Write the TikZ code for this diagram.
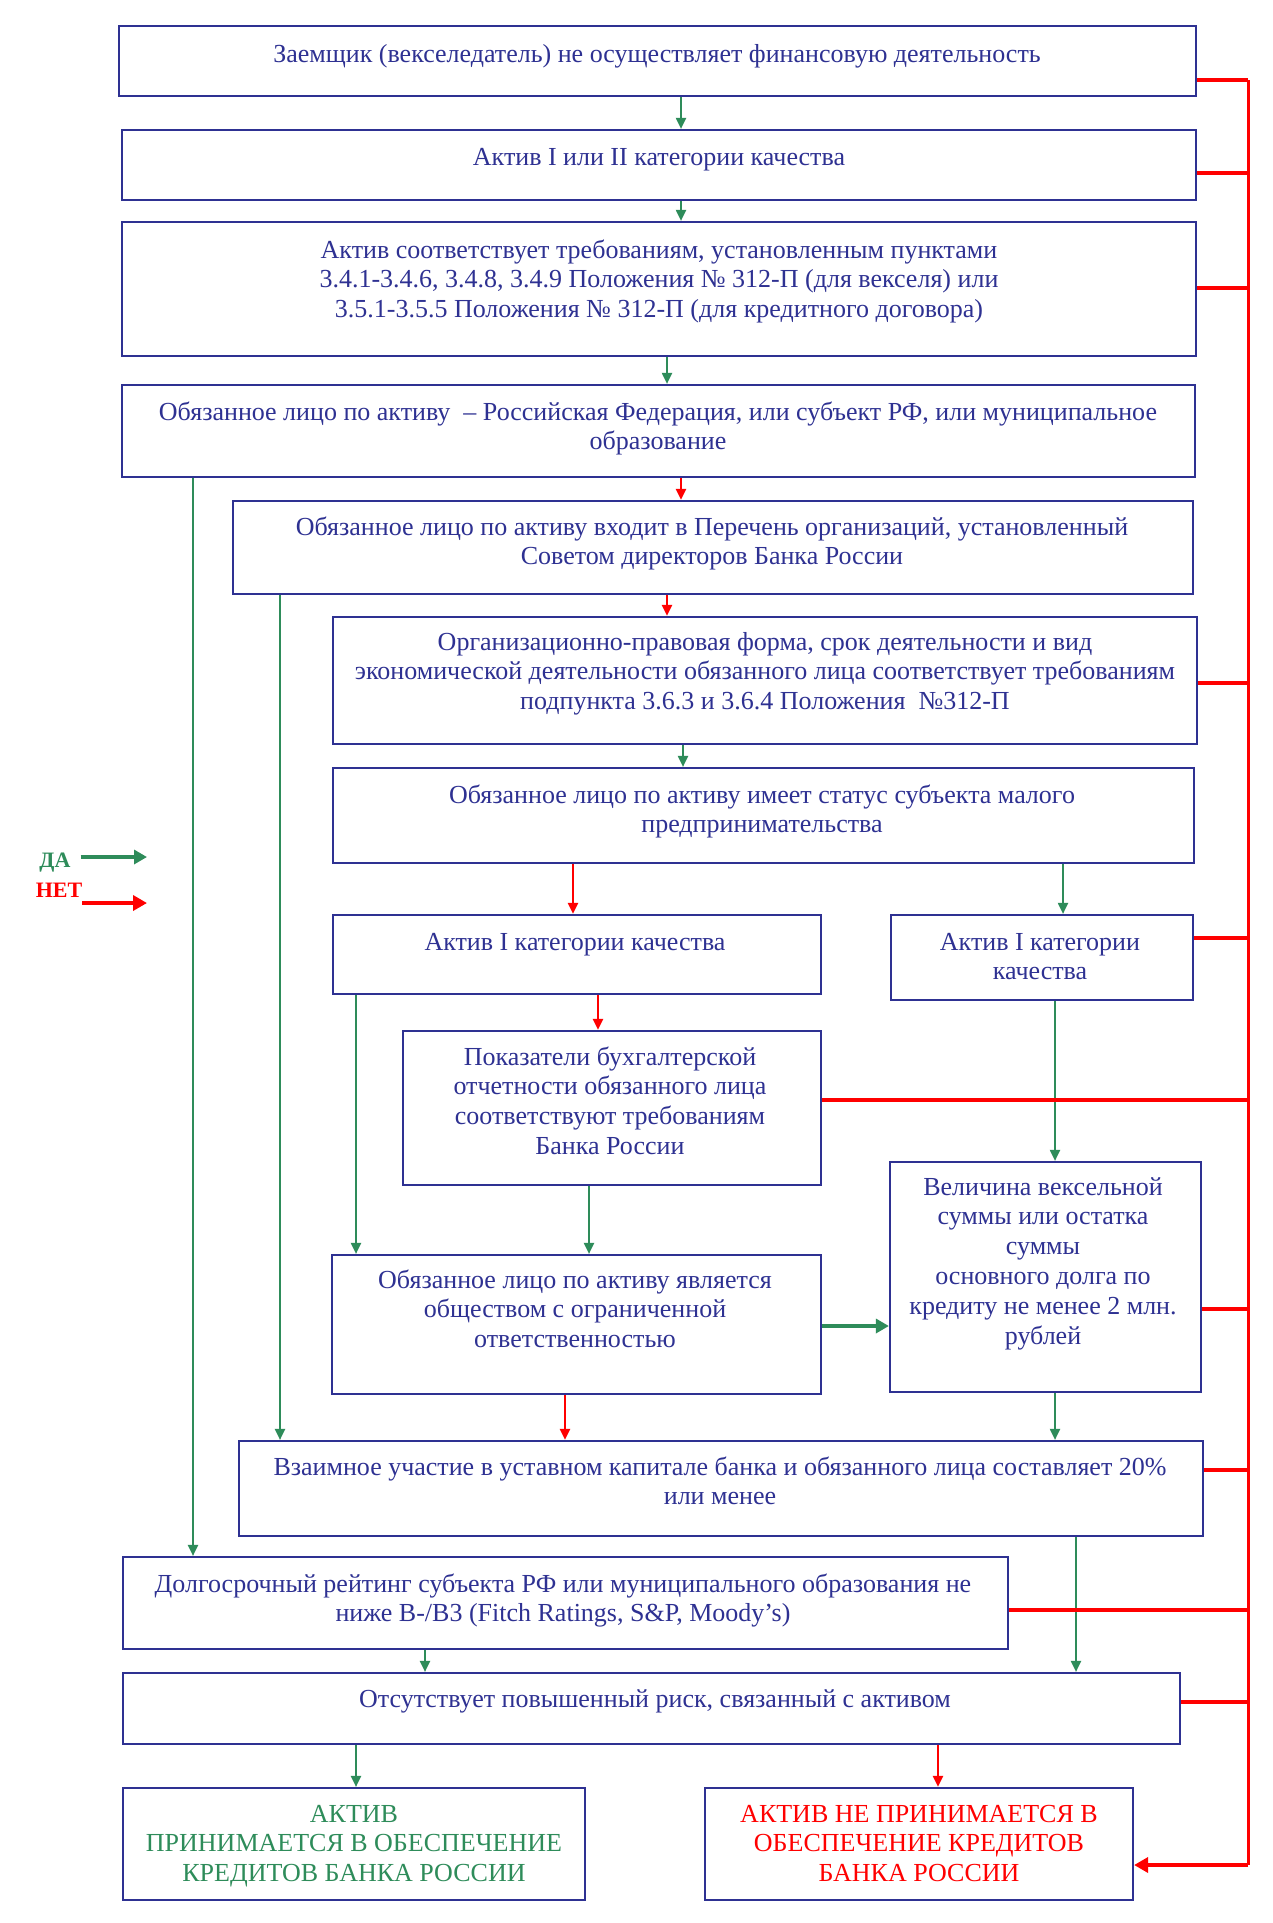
\documentclass[tikz,border=0pt]{standalone}
\usepackage{fontspec}
\setmainfont{Liberation Serif}
\usetikzlibrary{arrows.meta}
\definecolor{navy}{RGB}{46,49,146}
\definecolor{okgreen}{RGB}{46,140,90}
\definecolor{nored}{RGB}{255,0,0}
\tikzset{
  boxst/.style={draw=navy, line width=2.2pt, fill=white, inner sep=0pt},
  txt/.style={text=navy, align=center, inner sep=0pt, font=\fontsize{26}{29.8}\selectfont},
  yesarr/.style={draw=okgreen, line width=2pt, -{Triangle[length=11pt,width=10pt]}},
  yesthick/.style={draw=okgreen, line width=4pt, -{Triangle[length=13pt,width=14pt]}},
  noarr/.style={draw=nored, line width=2.4pt, -{Triangle[length=11pt,width=10pt]}},
  nothick/.style={draw=nored, line width=4pt, -{Triangle[length=14pt,width=15pt]}},
  nostub/.style={draw=nored, line width=4pt},
  norail/.style={draw=nored, line width=3pt},
  legtxt/.style={inner sep=0pt, anchor=base, font=\fontsize{22}{26}\selectfont\bfseries},
}
\newcommand\mkbox[5]{%
  \node[boxst, minimum width={#4pt-#2pt}, minimum height={#5pt-#3pt}] (#1) at ({(#2+#4)/2},{(#3+#5)/2}) {};}
% name, x, first baseline, number of lines, text
\newcommand\mktext[5]{%
  \node[txt, anchor=base] (#1) at (#2,{#3+(#4-1)*29.8}) {#5};}
\begin{document}
\begin{tikzpicture}[x=1pt,y=-1pt]
\fill[white] (0,0) rectangle (1273,1923);
\useasboundingbox (0,0) rectangle (1273,1923);
% boxes
\mkbox{b1}{119}{26}{1196}{96}
\mkbox{b2}{122}{130}{1196}{200}
\mkbox{b3}{122}{222}{1196}{356}
\mkbox{b4}{122}{385}{1195}{477}
\mkbox{b5}{233}{501}{1193}{594}
\mkbox{b6}{333}{617}{1197}{744}
\mkbox{b7}{333}{768}{1194}{863}
\mkbox{b8}{333}{915}{821}{994}
\mkbox{b9}{891}{915}{1193}{1000}
\mkbox{b10}{403}{1031}{821}{1185}
\mkbox{b11}{890}{1162}{1201}{1392}
\mkbox{b12}{332}{1255}{821}{1394}
\mkbox{b13}{239}{1441}{1203}{1536}
\mkbox{b14}{123}{1557}{1008}{1649}
\mkbox{b15}{123}{1673}{1180}{1744}
\mkbox{b16}{123}{1788}{585}{1900}
\mkbox{b17}{705}{1788}{1133}{1900}
% texts
\mktext{t1}{657}{62}{1}{Заемщик (векселедатель) не осуществляет финансовую деятельность}
\mktext{t2}{659}{165}{1}{Актив I или II категории качества}
\mktext{t3}{659}{258}{3}{Актив соответствует требованиям, установленным пунктами\\3.4.1-3.4.6, 3.4.8, 3.4.9 Положения № 312-П (для векселя) или\\3.5.1-3.5.5 Положения № 312-П (для кредитного договора)}
\mktext{t4}{658}{420}{2}{Обязанное лицо по активу~~– Российская Федерация, или субъект РФ, или муниципальное\\образование}
\mktext{t5}{712}{535}{2}{Обязанное лицо по активу входит в Перечень организаций, установленный\\Советом директоров Банка России}
\mktext{t6}{765}{650}{3}{Организационно-правовая форма, срок деятельности и вид\\экономической деятельности обязанного лица соответствует требованиям\\подпункта 3.6.3 и 3.6.4 Положения~~№312-П}
\mktext{t7}{762}{803}{2}{Обязанное лицо по активу имеет статус субъекта малого\\предпринимательства}
\mktext{t8}{575}{950}{1}{Актив I категории качества}
\mktext{t9}{1040}{950}{2}{Актив I категории\\качества}
\mktext{t10}{610}{1065}{4}{Показатели бухгалтерской\\отчетности обязанного лица\\соответствуют требованиям\\Банка России}
\mktext{t11}{1043}{1195}{6}{Величина вексельной\\суммы или остатка\\суммы\\основного долга по\\кредиту не менее 2 млн.\\рублей}
\mktext{t12}{575}{1288}{3}{Обязанное лицо по активу является\\обществом с ограниченной\\ответственностью}
\mktext{t13}{720}{1475}{2}{Взаимное участие в уставном капитале банка и обязанного лица составляет 20\%\\или менее}
\mktext{t14}{563}{1592}{2}{Долгосрочный рейтинг субъекта РФ или муниципального образования не\\ниже B-/B3 (Fitch Ratings, S\&P, Moody’s)}
\mktext{t15}{655}{1707}{1}{Отсутствует повышенный риск, связанный с активом}
\node[txt, anchor=base, text=okgreen] (t16) at (354,{1822+2*29.8}) {АКТИВ\\ПРИНИМАЕТСЯ В ОБЕСПЕЧЕНИЕ\\КРЕДИТОВ БАНКА РОССИИ};
\node[txt, anchor=base, text=nored] (t17) at (919,{1822+2*29.8}) {АКТИВ НЕ ПРИНИМАЕТСЯ В\\ОБЕСПЕЧЕНИЕ КРЕДИТОВ\\БАНКА РОССИИ};
% legend
\node[legtxt, text=okgreen] (da) at (55,867) {ДА};
\node[legtxt, text=nored] (net) at (59,897) {НЕТ};
\coordinate (daend) at (147,857);
\coordinate (netend) at (147,903);
\draw[yesthick] (da.east |- daend) ++(10,0) -- (daend);
\draw[nothick] (net.east |- netend) -- (netend);
% vertical flow arrows
\draw[yesarr] (b1.south -| 681,0) -- (b2.north -| 681,0);
\draw[yesarr] (b2.south -| 681,0) -- (b3.north -| 681,0);
\draw[yesarr] (b3.south -| 667,0) -- (b4.north -| 667,0);
\draw[noarr] (b4.south -| 681,0) -- (b5.north -| 681,0);
\draw[noarr] (b5.south -| 667,0) -- (b6.north -| 667,0);
\draw[yesarr] (b6.south -| 683,0) -- (b7.north -| 683,0);
\draw[noarr] (b7.south -| 573,0) -- (b8.north -| 573,0);
\draw[yesarr] (b7.south -| 1063,0) -- (b9.north -| 1063,0);
\draw[noarr] (b8.south -| 598,0) -- (b10.north -| 598,0);
\draw[yesarr] (b4.south -| 193,0) -- (b14.north -| 193,0);
\draw[yesarr] (b5.south -| 280,0) -- (b13.north -| 280,0);
\draw[yesarr] (b8.south -| 356,0) -- (b12.north -| 356,0);
\draw[yesarr] (b10.south -| 589,0) -- (b12.north -| 589,0);
\draw[yesarr] (b9.south -| 1055,0) -- (b11.north -| 1055,0);
\draw[yesthick] (b12.east |- 0,1326) -- (b11.west |- 0,1326);
\draw[yesarr] (b11.south -| 1055,0) -- (b13.north -| 1055,0);
\draw[noarr] (b12.south -| 565,0) -- (b13.north -| 565,0);
\draw[yesarr] (b13.south -| 1076,0) -- (b15.north -| 1076,0);
\draw[yesarr] (b14.south -| 425,0) -- (b15.north -| 425,0);
\draw[yesarr] (b15.south -| 356,0) -- (b16.north -| 356,0);
\draw[noarr] (b15.south -| 938,0) -- (b17.north -| 938,0);
% red rail
\coordinate (railtop) at (1248,80);
\coordinate (railbot) at (1248,1865);
\draw[norail] (railtop) -- (railbot);
\draw[nostub] (b1.east |- railtop) -- (railtop);
\draw[nostub] (b2.east |- 0,173) -- (railtop |- 0,173);
\draw[nostub] (b3.east |- 0,288) -- (railtop |- 0,288);
\draw[nostub] (b6.east |- 0,683) -- (railtop |- 0,683);
\draw[nostub] (b9.east |- 0,938) -- (railtop |- 0,938);
\draw[nostub] (b10.east |- 0,1100) -- (railtop |- 0,1100);
\draw[nostub] (b11.east |- 0,1309) -- (railtop |- 0,1309);
\draw[nostub] (b13.east |- 0,1470) -- (railtop |- 0,1470);
\draw[nostub] (b14.east |- 0,1610) -- (railtop |- 0,1610);
\draw[nostub] (b15.east |- 0,1702) -- (railtop |- 0,1702);
\draw[nothick] (railbot) -- (b17.east |- railbot);
\end{tikzpicture}
\end{document}
